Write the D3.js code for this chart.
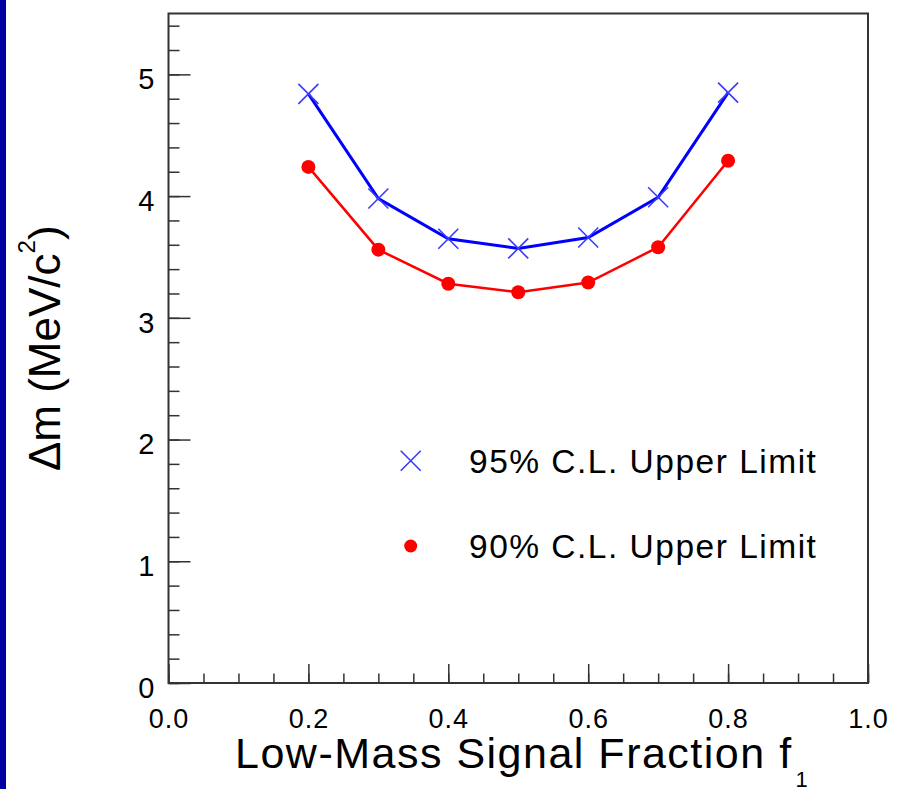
<!DOCTYPE html>
<html>
<head>
<meta charset="utf-8">
<script src="https://cdn.jsdelivr.net/npm/d3@7"></script>
<style>
  html, body { margin: 0; padding: 0; background: #fff; }
  svg { display: block; font-family: "Liberation Sans", Arial, Helvetica, sans-serif; }
</style>
</head>
<body>
<div id="chart"></div>
<script>
// fraction f1 values and the two upper-limit curves (MeV/c^2)
const fractions = [0.2, 0.3, 0.4, 0.5, 0.6, 0.7, 0.8];
const limit95 = [4.84, 3.98, 3.65, 3.57, 3.66, 3.99, 4.85];
const limit90 = [4.24, 3.56, 3.28, 3.21, 3.29, 3.58, 4.29];

const xMajorTicks = [0.0, 0.2, 0.4, 0.6, 0.8, 1.0];
const yMajorTicks = [0, 1, 2, 3, 4, 5];
const legendLabels = ['95% C.L. Upper Limit', '90% C.L. Upper Limit'];

const W = 898, H = 789;
const frame = { left: 168.5, right: 868, top: 13.5, bottom: 683 };
const axisColor = '#333';

const svg = d3.select('#chart').append('svg')
    .attr('width', W).attr('height', H);

// dark blue strip on the left edge
svg.append('rect').attr('x', 0).attr('y', 0).attr('width', 6).attr('height', H).attr('fill', '#0000a0');

const x = d3.scaleLinear().domain([0, 1]).range([frame.left, frame.right]);
const y = d3.scaleLinear().domain([0, 5.5]).range([frame.bottom, frame.top]);

// minor ticks
svg.append('g').attr('transform', `translate(0,${frame.bottom})`)
    .call(d3.axisBottom(x).tickValues(d3.range(0, 1.0001, 0.05)).tickSizeInner(-9.5).tickSizeOuter(0).tickFormat(''))
    .call(g => g.select('.domain').remove());
svg.append('g').attr('transform', `translate(${frame.left},0)`)
    .call(d3.axisLeft(y).tickValues(d3.range(0, 5.5001, 0.2)).tickSizeInner(-11).tickSizeOuter(0).tickFormat(''))
    .call(g => g.select('.domain').remove());

// major ticks + labels
const xAxis = svg.append('g').attr('transform', `translate(0,${frame.bottom})`)
    .call(d3.axisBottom(x).tickValues(xMajorTicks).tickSizeInner(-19).tickSizeOuter(0).tickFormat(d3.format('.1f')))
    .call(g => g.select('.domain').remove());
xAxis.selectAll('text').attr('y', 44.7).attr('dy', null)
    .attr('font-size', 27).attr('letter-spacing', 1).attr('fill', '#000');

const yAxis = svg.append('g').attr('transform', `translate(${frame.left},0)`)
    .call(d3.axisLeft(y).tickValues(yMajorTicks).tickSizeInner(-22).tickSizeOuter(0).tickFormat(d3.format('d')))
    .call(g => g.select('.domain').remove());
yAxis.selectAll('text').attr('x', -14).attr('dy', 14.4)
    .attr('font-size', 29).attr('fill', '#000');

svg.selectAll('.tick line').attr('stroke', axisColor).attr('stroke-width', 1.5);
svg.selectAll('.tick text').attr('font-family', '"Liberation Sans", Arial, sans-serif');

// frame
svg.append('rect')
    .attr('x', frame.left).attr('y', frame.top)
    .attr('width', frame.right - frame.left).attr('height', frame.bottom - frame.top)
    .attr('fill', 'none').attr('stroke', axisColor).attr('stroke-width', 2);

// curves
const line = d3.line().x(d => x(d[0])).y(d => y(d[1]));
const pts95 = fractions.map((f, i) => [f, limit95[i]]);
const pts90 = fractions.map((f, i) => [f, limit90[i]]);

svg.append('path').datum(pts95).attr('d', line)
    .attr('fill', 'none').attr('stroke', '#0000ff').attr('stroke-width', 3);
svg.append('path').datum(pts90).attr('d', line)
    .attr('fill', 'none').attr('stroke', '#ff0000').attr('stroke-width', 2.5);

const crossPath = (cx, cy, s) => `M${cx - s},${cy - s}L${cx + s},${cy + s}M${cx - s},${cy + s}L${cx + s},${cy - s}`;

svg.append('g').selectAll('path').data(pts95).join('path')
    .attr('d', d => crossPath(x(d[0]), y(d[1]), 10))
    .attr('stroke', '#3a3aff').attr('stroke-width', 1.6).attr('fill', 'none');
svg.append('g').selectAll('circle').data(pts90).join('circle')
    .attr('cx', d => x(d[0])).attr('cy', d => y(d[1])).attr('r', 7)
    .attr('fill', '#ff0000');

// legend
const legend = svg.append('g');
legend.append('path').attr('d', crossPath(410.7, 460.7, 10))
    .attr('stroke', '#3a3aff').attr('stroke-width', 1.6).attr('fill', 'none');
legend.append('circle').attr('cx', 410.7).attr('cy', 546).attr('r', 6.5).attr('fill', '#ff0000');
legend.selectAll('text').data(legendLabels).join('text')
    .attr('x', 469).attr('y', (d, i) => i === 0 ? 473.3 : 558)
    .attr('font-size', 33.5).attr('letter-spacing', 1.5).attr('fill', '#000')
    .text(d => d);

// axis titles
const xTitle = svg.append('text')
    .attr('x', 235).attr('y', 767.5)
    .attr('font-size', 43).attr('letter-spacing', 1.5).attr('fill', '#000');
xTitle.append('tspan').text('Low-Mass Signal Fraction f');
xTitle.append('tspan').attr('dx', 3).attr('dy', 19).attr('font-size', 22).attr('letter-spacing', 0).text('1');

const yTitle = svg.append('text')
    .attr('transform', `translate(60,${(frame.top + frame.bottom) / 2}) rotate(-90)`)
    .attr('text-anchor', 'middle').attr('font-size', 44).attr('fill', '#000');
yTitle.append('tspan').text('\u0394m (MeV/c');
yTitle.append('tspan').attr('dy', -25).attr('font-size', 24).text('2');
yTitle.append('tspan').attr('dy', 25).text(')');
</script>
</body>
</html>
